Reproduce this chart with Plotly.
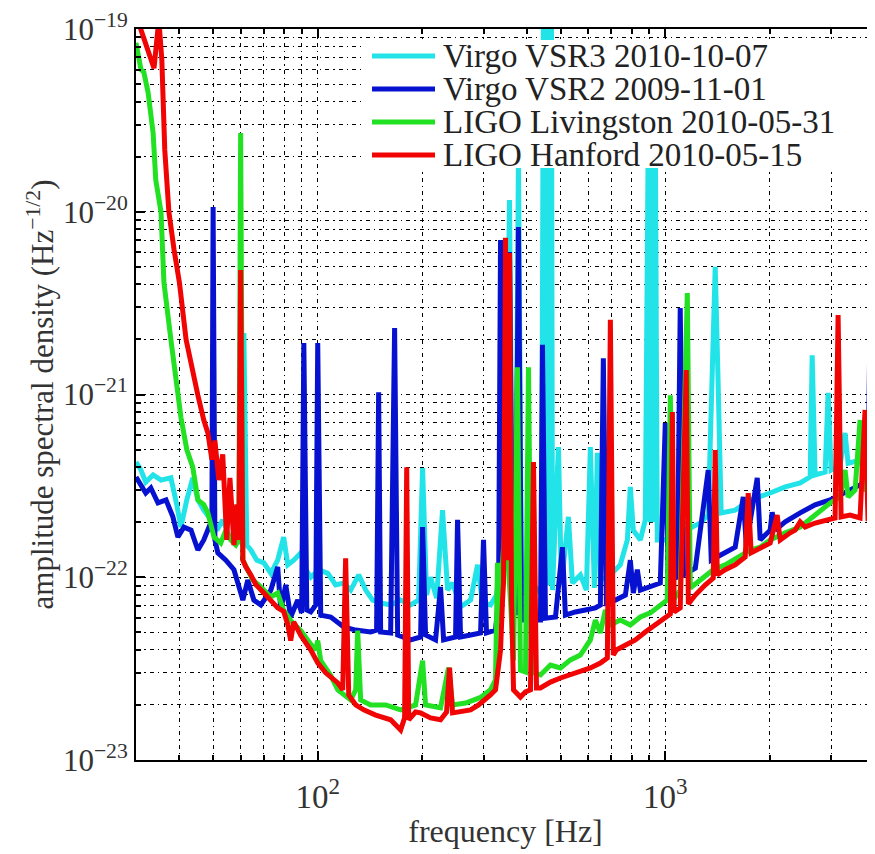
import numpy as np
import plotly.graph_objects as go

# amplitude spectral density, frequency in Hz
vsr3_freq = [30.0, 31.0, 32.0, 33.6, 35.4, 37.8, 39.3, 40.4, 42.0, 43.7, 45.2, 47.0, 49.3, 51.3, 53.3,
             55.5, 58.1, 60.2, 61.3, 62.5, 64.2, 66.8, 70.0, 73.3, 76.7, 79.8, 82.0, 85.3, 89.4, 92.4,
             95.5, 100.7, 106.9, 112.6, 118.8, 124.4, 131.2, 137.4, 143.9, 151.7, 162.1, 173.2, 185.0, 195.1, 200.3,
             205.7, 211.2, 219.8, 228.6, 236.4, 244.3, 257.6, 275.3, 288.3, 297.9, 314.1, 326.8, 335.7, 342.4, 346.9,
             356.3, 363.4, 370.7, 378.0, 385.7, 396.0, 415.0, 431.5, 440.3, 446.1, 452.1, 458.1, 464.3, 470.4, 473.5,
             492.7, 502.5, 526.3, 540.5, 569.7, 592.9, 608.7, 625.2, 637.6, 650.4, 695.0, 742.4, 777.7, 793.2, 809,
             847.6, 876.0, 893.5, 905.5, 914.6, 923.7, 936.0, 948.4, 1000, 1048, 1104, 1180, 1261, 1329, 1356,
             1392, 1420, 1448, 1589, 1755, 2003, 2213, 2444, 2611, 2646, 2698, 2883, 2941, 2999, 3184,
             3290, 3357, 3634, 3830, 3960, 4012]
vsr3_asd = [4.27e-22, 3.86e-22, 3.32e-22, 3.63e-22, 3.4e-22, 3.5e-22, 2.49e-22, 1.88e-22, 2.65e-22, 3.5e-22, 2.65e-22, 2.33e-22, 2.06e-22, 1.81e-22, 2.06e-22,
            1.7e-22, 1.6e-22, 1.55e-22, 2.17e-21, 1.5e-22, 1.41e-22, 1.24e-22, 1.2e-22, 1.05e-22, 1.24e-22, 1.66e-22, 1.17e-22, 1.24e-22, 1.36e-22, 1.1e-22,
            1.0e-22, 1.1e-22, 1.05e-22, 9.07e-23, 9.3e-23, 8.51e-23, 1.03e-22, 8.51e-23, 7.5e-23, 7.23e-23, 7.05e-23, 7.5e-23, 7.05e-23, 7.5e-23, 3.96e-22,
            7.99e-23, 1.0e-22, 7.69e-23, 2.33e-22, 8.51e-23, 9.3e-23, 6.88e-23, 7.5e-23, 1.17e-22, 7.23e-23, 7.05e-23, 7.99e-23, 1.24e-22, 1.6e-22, 3.0e-22,
            1.16e-20, 1.41e-22, 1.24e-22, 2.0e-20, 8.51e-23, 8.51e-23, 9.07e-23, 8.51e-23, 7.99e-23, 1.5e-19, 9.0e-23, 1.5e-19, 9.0e-23, 1.5e-19, 8.51e-23,
            5.16e-22, 9.07e-23, 2.14e-22, 9.3e-23, 1.03e-22, 8.51e-23, 5.16e-22, 8.74e-23, 4.79e-22, 9.66e-23, 1.03e-22, 1.17e-22, 1.6e-22, 3.12e-22, 1.81e-22,
            1.6e-22, 2.06e-22, 3.0e-20, 2.0e-22, 3.0e-20, 2.0e-22, 3.0e-20, 1.6e-22, 1.6e-22, 1.75e-22, 1.75e-22, 1.86e-22, 1.98e-22, 2.19e-22, 1.1e-21,
            5.0e-21, 1.1e-21, 2.25e-22, 2.33e-22, 2.65e-22, 2.89e-22, 3.12e-22, 3.28e-22, 3.54e-22, 1.64e-21, 3.63e-22, 3.76e-22, 1.02e-21, 3.86e-22, 4.11e-22,
            6.16e-22, 4.2e-22, 4.38e-22, 4.67e-22, 3.59e-21, 4.97e-22]

vsr2_freq = [30.0, 31.0, 32.0, 33.1, 34.7, 36.6, 38.3, 39.6, 41.2, 43.2, 45.2, 47.0, 48.6, 49.6, 50.0,
             50.6, 51.6, 54.4, 57.4, 58.9, 60.9, 62.9, 65.5, 68.6, 73.3, 76.7, 78.3, 80.9, 83.6, 87.6,
             89.9, 91.2, 93.0, 95.5, 98.7, 100.0, 102.0, 109.0, 118.8, 128.6, 142.0, 147.7, 149.7, 151.7, 162.1,
             166.4, 169.8, 185.0, 197.7, 200.3, 204.3, 218.3, 225.6, 230.2, 249.2, 252.5, 257.6, 275.3, 294.1, 299.9,
             305.9, 324.7, 331.3, 335.7, 342.4, 356.3, 363.4, 370.7, 378.0, 385.7, 409.4, 437.4, 443.2, 452.1, 483.1,
             505.9, 515.9, 551.2, 588.9, 629.3, 650.4, 663.4, 676.8, 718.3, 767.7, 793.2, 809, 830.8, 847.6, 905.5,
             967.4, 1000, 1020, 1083, 1104, 1128, 1220, 1329, 1356, 1439, 1589, 1676, 1710, 1839, 1875,
             2003, 2030, 2071, 2213, 2444, 2698, 2980, 3290, 3634, 3830, 3882, 3960, 4012]
vsr2_asd = [3.54e-22, 3.2e-22, 2.89e-22, 3.08e-22, 2.55e-22, 2.65e-22, 2.14e-22, 1.66e-22, 1.88e-22, 1.81e-22, 1.41e-22, 1.6e-22, 1.88e-22, 2.06e-22, 1.06e-20,
            1.6e-22, 1.36e-22, 1.24e-22, 1.1e-22, 9.3e-23, 7.5e-23, 9.66e-23, 7.5e-23, 7.05e-23, 8.51e-23, 1.14e-22, 6.62e-23, 9.07e-23, 6.06e-23, 7.5e-23,
            6.38e-23, 1.91e-21, 6.62e-23, 6.46e-23, 7.05e-23, 1.91e-21, 6.2e-23, 6.06e-23, 5.34e-23, 5.14e-23, 5.02e-23, 5.14e-23, 1.03e-21, 5.02e-23, 4.96e-23,
            2.31e-21, 4.83e-23, 4.54e-23, 4.71e-23, 1.88e-22, 4.83e-23, 4.54e-23, 8.85e-23, 4.54e-23, 4.71e-23, 2.06e-22, 4.71e-23, 4.83e-23, 4.96e-23, 1.6e-22,
            4.96e-23, 5.14e-23, 7.5e-23, 7.0e-21, 1.24e-22, 6.02e-21, 8.51e-23, 6.2e-23, 8.25e-21, 5.83e-23, 5.83e-23, 5.83e-23, 1.87e-21, 5.97e-23, 6.06e-23,
            1.46e-22, 6.2e-23, 6.46e-23, 6.62e-23, 6.79e-23, 7.05e-23, 1.58e-21, 7.23e-23, 7.5e-23, 7.99e-23, 1.24e-22, 8.2e-23, 1.1e-22, 8.51e-23, 8.85e-23,
            9.3e-23, 6.98e-22, 9.66e-23, 1.0e-22, 2.97e-21, 1.03e-22, 1.12e-22, 3.86e-22, 1.24e-22, 1.32e-22, 1.46e-22, 2.75e-22, 1.5e-22, 3.5e-22, 1.6e-22,
            1.81e-22, 2.27e-22, 1.81e-22, 2.01e-22, 2.25e-22, 2.49e-22, 2.65e-22, 2.89e-22, 3.2e-22, 3.4e-22, 2.49e-21, 3.4e-22, 3.5e-22]

llo_freq = [30.0, 31.0, 31.6, 32.5, 33.6, 34.2, 35.4, 36.1, 37.8, 39.1, 40.4, 42.0, 43.7, 45.2, 47.0,
            48.3, 50.3, 52.6, 54.4, 56.2, 58.1, 59.3, 60.0, 60.9, 62.1, 65.0, 67.7, 70.0, 73.3, 76.7,
            78.3, 79.8, 83.6, 89.4, 95.5, 98.7, 100.0, 102.0, 109.0, 114.2, 124.4, 128.6, 130.3, 132.9, 142.0,
            156.8, 173.2, 191.2, 200.3, 204.3, 225.6, 237.9, 244.3, 266.3, 294.1, 314.1, 324.7, 329.0, 331.3, 340.2,
            346.9, 358.5, 365.9, 375.5, 383.1, 396.0, 404.0, 412.1, 437.4, 467.3, 499.3, 533.3, 569.7, 608.7, 629.3,
            650.4, 672.3, 695.0, 742.4, 793.2, 847.6, 905.5, 967.4, 1013, 1034, 1054, 1104, 1157, 1180, 1261,
            1374, 1487, 1589, 1755, 1875, 2003, 2213, 2444, 2698, 2980, 3184, 3290, 3357, 3516, 3634,
            3707, 3882, 4012]
llo_asd = [8.4e-20, 6.0e-20, 5.8e-20, 4.5e-20, 2.7e-20, 1.49e-20, 1.0e-20, 4.1e-21, 2.0e-21, 1.2e-21, 7.5e-22, 5.0e-22, 4.0e-22, 2.65e-22, 2.5e-22,
           2.25e-22, 1.66e-22, 1.54e-22, 1.81e-22, 1.6e-22, 1.5e-22, 1.6e-22, 2.7e-20, 1.24e-22, 1.14e-22, 9.66e-23, 9.07e-23, 8.5e-23, 7.8e-23, 8.2e-23,
           7.2e-23, 6.6e-23, 5.8e-23, 5.1e-23, 4.3e-23, 4.0e-23, 4.5e-23, 3.5e-23, 2.9e-23, 2.42e-23, 2.13e-23, 2.42e-23, 5.1e-23, 2.13e-23, 2.0e-23,
           2.0e-23, 1.88e-23, 2.0e-23, 3.5e-23, 2.0e-23, 1.93e-23, 3.2e-23, 2.0e-23, 2.05e-23, 2.2e-23, 2.42e-23, 2.74e-23, 1.2e-22, 5.8e-23, 1.24e-22,
           2.06e-22, 7.5e-23, 3.5e-23, 1.41e-21, 3.1e-23, 3.03e-23, 1.41e-21, 3.03e-23, 2.92e-23, 3.31e-23, 3.19e-23, 3.53e-23, 3.75e-23, 4.54e-23, 5.83e-23,
           4.96e-23, 6.62e-23, 5.48e-23, 5.83e-23, 5.48e-23, 6.06e-23, 6.38e-23, 7.05e-23, 7.5e-23, 9.9e-22, 7.5e-23, 8.51e-23, 3.59e-21, 8.74e-23, 9.66e-23,
           1.1e-22, 1.17e-22, 1.27e-22, 1.41e-22, 1.46e-22, 1.6e-22, 1.75e-22, 1.88e-22, 2.19e-22, 2.55e-22, 2.75e-22, 3.86e-22, 2.75e-22, 3.0e-22, 7.25e-22,
           3.0e-22, 3.2e-22, 3.12e-22]

lho_freq = [30.0, 33.8, 34.9, 35.6, 36.3, 37.3, 38.6, 40.0, 41.8, 43.5, 45.2, 47.0, 48.3, 49.6, 50.6,
            51.9, 53.3, 54.7, 55.9, 57.4, 58.5, 59.3, 60.0, 60.9, 62.1, 64.2, 66.4, 70.0, 73.3, 76.7,
            79.8, 82.0, 83.6, 85.3, 89.4, 95.5, 100.0, 105.4, 114.2, 118.0, 120.3, 122.8, 128.6, 135.6, 146.8,
            162.1, 173.2, 177.8, 180.3, 182.7, 191.2, 197.7, 211.2, 225.6, 234.8, 239.5, 244.3, 257.6, 275.3, 290.2,
            303.9, 314.1, 324.7, 331.3, 335.7, 340.2, 342.4, 346.9, 351.6, 356.3, 361.1, 365.9, 375.5, 383.1, 396.0,
            409.4, 417.6, 426.0, 437.4, 467.3, 499.3, 533.3, 569.7, 608.7, 650.4, 681.2, 695.0, 708.8, 723.0, 767.7,
            820.0, 876.0, 936.0, 1000, 1034, 1048, 1061, 1104, 1149, 1165, 1220, 1302, 1374, 1392, 1411,
            1487, 1589, 1698, 1732, 1766, 1875, 2003, 2098, 2141, 2287, 2363, 2444, 2525, 2698, 2883,
            3080, 3142, 3205, 3401, 3634, 3756, 3830, 4012]
lho_asd = [1.19e-19, 6.1e-20, 1.12e-19, 6.8e-20, 2.18e-20, 1.0e-20, 6.2e-21, 4.1e-21, 2.0e-21, 1.36e-21, 9.9e-22, 7.25e-22, 6.16e-22, 4.4e-22, 5.6e-22,
           3.4e-22, 4.7e-22, 1.6e-22, 3.5e-22, 1.5e-22, 2.5e-22, 1.6e-22, 4.8e-21, 1.24e-22, 1.14e-22, 1.03e-22, 9.1e-23, 8.2e-23, 7.5e-23, 6.8e-23,
           6.5e-23, 5.5e-23, 4.5e-23, 5.7e-23, 4.8e-23, 4.0e-23, 3.4e-23, 3.0e-23, 2.64e-23, 2.42e-23, 1.27e-22, 2.27e-23, 2.0e-23, 1.88e-23, 1.76e-23,
           1.66e-23, 1.46e-23, 1.7e-23, 4.0e-22, 1.66e-23, 1.83e-23, 1.81e-23, 1.7e-23, 1.66e-23, 1.83e-23, 3.2e-23, 1.81e-23, 1.83e-23, 1.88e-23, 2.0e-23,
           2.13e-23, 2.27e-23, 2.42e-23, 3.1e-23, 4.0e-23, 7.5e-23, 9.3e-23, 7.2e-21, 1.24e-22, 5.95e-21, 7.5e-23, 2.42e-23, 2.27e-23, 2.21e-23, 2.36e-23,
           2.42e-23, 4.27e-22, 2.48e-23, 2.48e-23, 2.67e-23, 2.81e-23, 2.92e-23, 3.03e-23, 3.19e-23, 3.39e-23, 3.62e-23, 2.56e-21, 3.75e-23, 4.0e-23, 4.26e-23,
           4.54e-23, 5.02e-23, 5.48e-23, 6.06e-23, 6.3e-23, 8.03e-22, 6.46e-23, 6.79e-23, 1.36e-21, 7.14e-23, 7.99e-23, 9.07e-23, 9.9e-23, 4.97e-22, 1.03e-22,
           1.1e-22, 1.17e-22, 1.29e-22, 2.89e-22, 1.36e-22, 1.45e-22, 1.54e-22, 2.19e-22, 1.6e-22, 1.75e-22, 1.81e-22, 2.01e-22, 1.88e-22, 1.98e-22, 2.06e-22,
           2.11e-22, 2.72e-21, 2.14e-22, 2.19e-22, 2.11e-22, 8.23e-22, 2.08e-22, 2.01e-22]

names = ["Virgo VSR3 2010-10-07", "Virgo VSR2 2009-11-01",
         "LIGO Livingston 2010-05-31", "LIGO Hanford 2010-05-15"]
colors = ["#22E4E8", "#0612D0", "#22E022", "#F00404"]
freqs = [vsr3_freq, vsr2_freq, llo_freq, lho_freq]
asds = [vsr3_asd, vsr2_asd, llo_asd, lho_asd]

x_major = [100, 1000]
x_major_text = ["10<sup>2</sup>", "10<sup>3</sup>"]
y_major = [1e-23, 1e-22, 1e-21, 1e-20, 1e-19]
y_major_text = ["10<sup>\u221223</sup>", "10<sup>\u221222</sup>", "10<sup>\u221221</sup>",
                "10<sup>\u221220</sup>", "10<sup>\u221219</sup>"]
x_minor = [m * 10 ** e for e in (1, 2, 3) for m in range(2, 10) if 30 < m * 10 ** e < 4000]
y_minor = [m * 10.0 ** e for e in (-23, -22, -21, -20) for m in range(2, 10)]

# the page body adds an 8px offset, so the figure is drawn 8px smaller
OFF = 8
W, H = 875 - OFF, 854 - OFF
ML, MR, MT, MB = 128, 0, 21, 94
FONT = "Liberation Serif"
GRID = "4px,4px,1.5px,4px"

fig = go.Figure()
for f, a, n, c in zip(freqs, asds, names, colors):
    fig.add_trace(go.Scatter(x=f, y=a, mode="lines", name=n,
                             line=dict(color=c, width=5), showlegend=False))

axis_common = dict(
    type="log", showline=True, linecolor="black", linewidth=2, automargin=False,
    ticks="inside", ticklen=9, tickwidth=1.5, tickcolor="black",
    showgrid=True, gridcolor="#000", gridwidth=1.3, griddash=GRID,
    tickfont=dict(family=FONT, size=33, color="#333"), ticklabeloverflow="allow",
    minor=dict(tickmode="array", ticks="inside", ticklen=5, tickcolor="black",
               showgrid=True, gridcolor="#000", gridwidth=1.3, griddash=GRID),
    zeroline=False,
)

fig.update_xaxes(**axis_common)
fig.update_xaxes(range=[np.log10(30), np.log10(4012)], tickmode="array",
                 tickvals=x_major, ticktext=x_major_text, mirror="ticks",
                 minor_tickvals=x_minor, ticklabelstandoff=6,
                 title=dict(text="frequency [Hz]", standoff=6,
                            font=dict(family=FONT, size=32, color="#333")))
fig.update_yaxes(**axis_common)
fig.update_yaxes(range=[-23, -19], tickmode="array",
                 tickvals=y_major, ticktext=y_major_text,
                 minor_tickvals=y_minor, tickfont_size=31,
                 title=dict(text="amplitude spectral density (Hz<sup>\u22121/2</sup>)", standoff=0,
                            font=dict(family=FONT, size=31, color="#333")))


# legend drawn by hand inside the plot area (positions in page pixels)
def px(x):
    return (x - OFF - ML) / (W - ML - MR)


def py(y):
    return (H - MB - (y - OFF)) / (H - MT - MB)


shapes = [dict(type="rect", xref="paper", yref="paper", layer="above",
               x0=px(361), x1=px(885), y0=py(168), y1=py(40),
               fillcolor="white", line=dict(width=0))]
annotations = []
rows = [56, 89, 122, 155]
for n, c, r in zip(names, colors, rows):
    shapes.append(dict(type="line", xref="paper", yref="paper", layer="above",
                       x0=px(372), x1=px(435), y0=py(r), y1=py(r),
                       line=dict(color=c, width=5)))
    annotations.append(dict(text=n, xref="paper", yref="paper", x=px(441), y=py(r),
                            xanchor="left", yanchor="middle", showarrow=False,
                            font=dict(family=FONT, size=33, color="#222")))

fig.update_layout(
    width=W, height=H,
    margin=dict(l=ML, r=MR, t=MT, b=MB),
    plot_bgcolor="white", paper_bgcolor="white",
    shapes=shapes, annotations=annotations,
    showlegend=False,
)

fig.write_html("out.html")
